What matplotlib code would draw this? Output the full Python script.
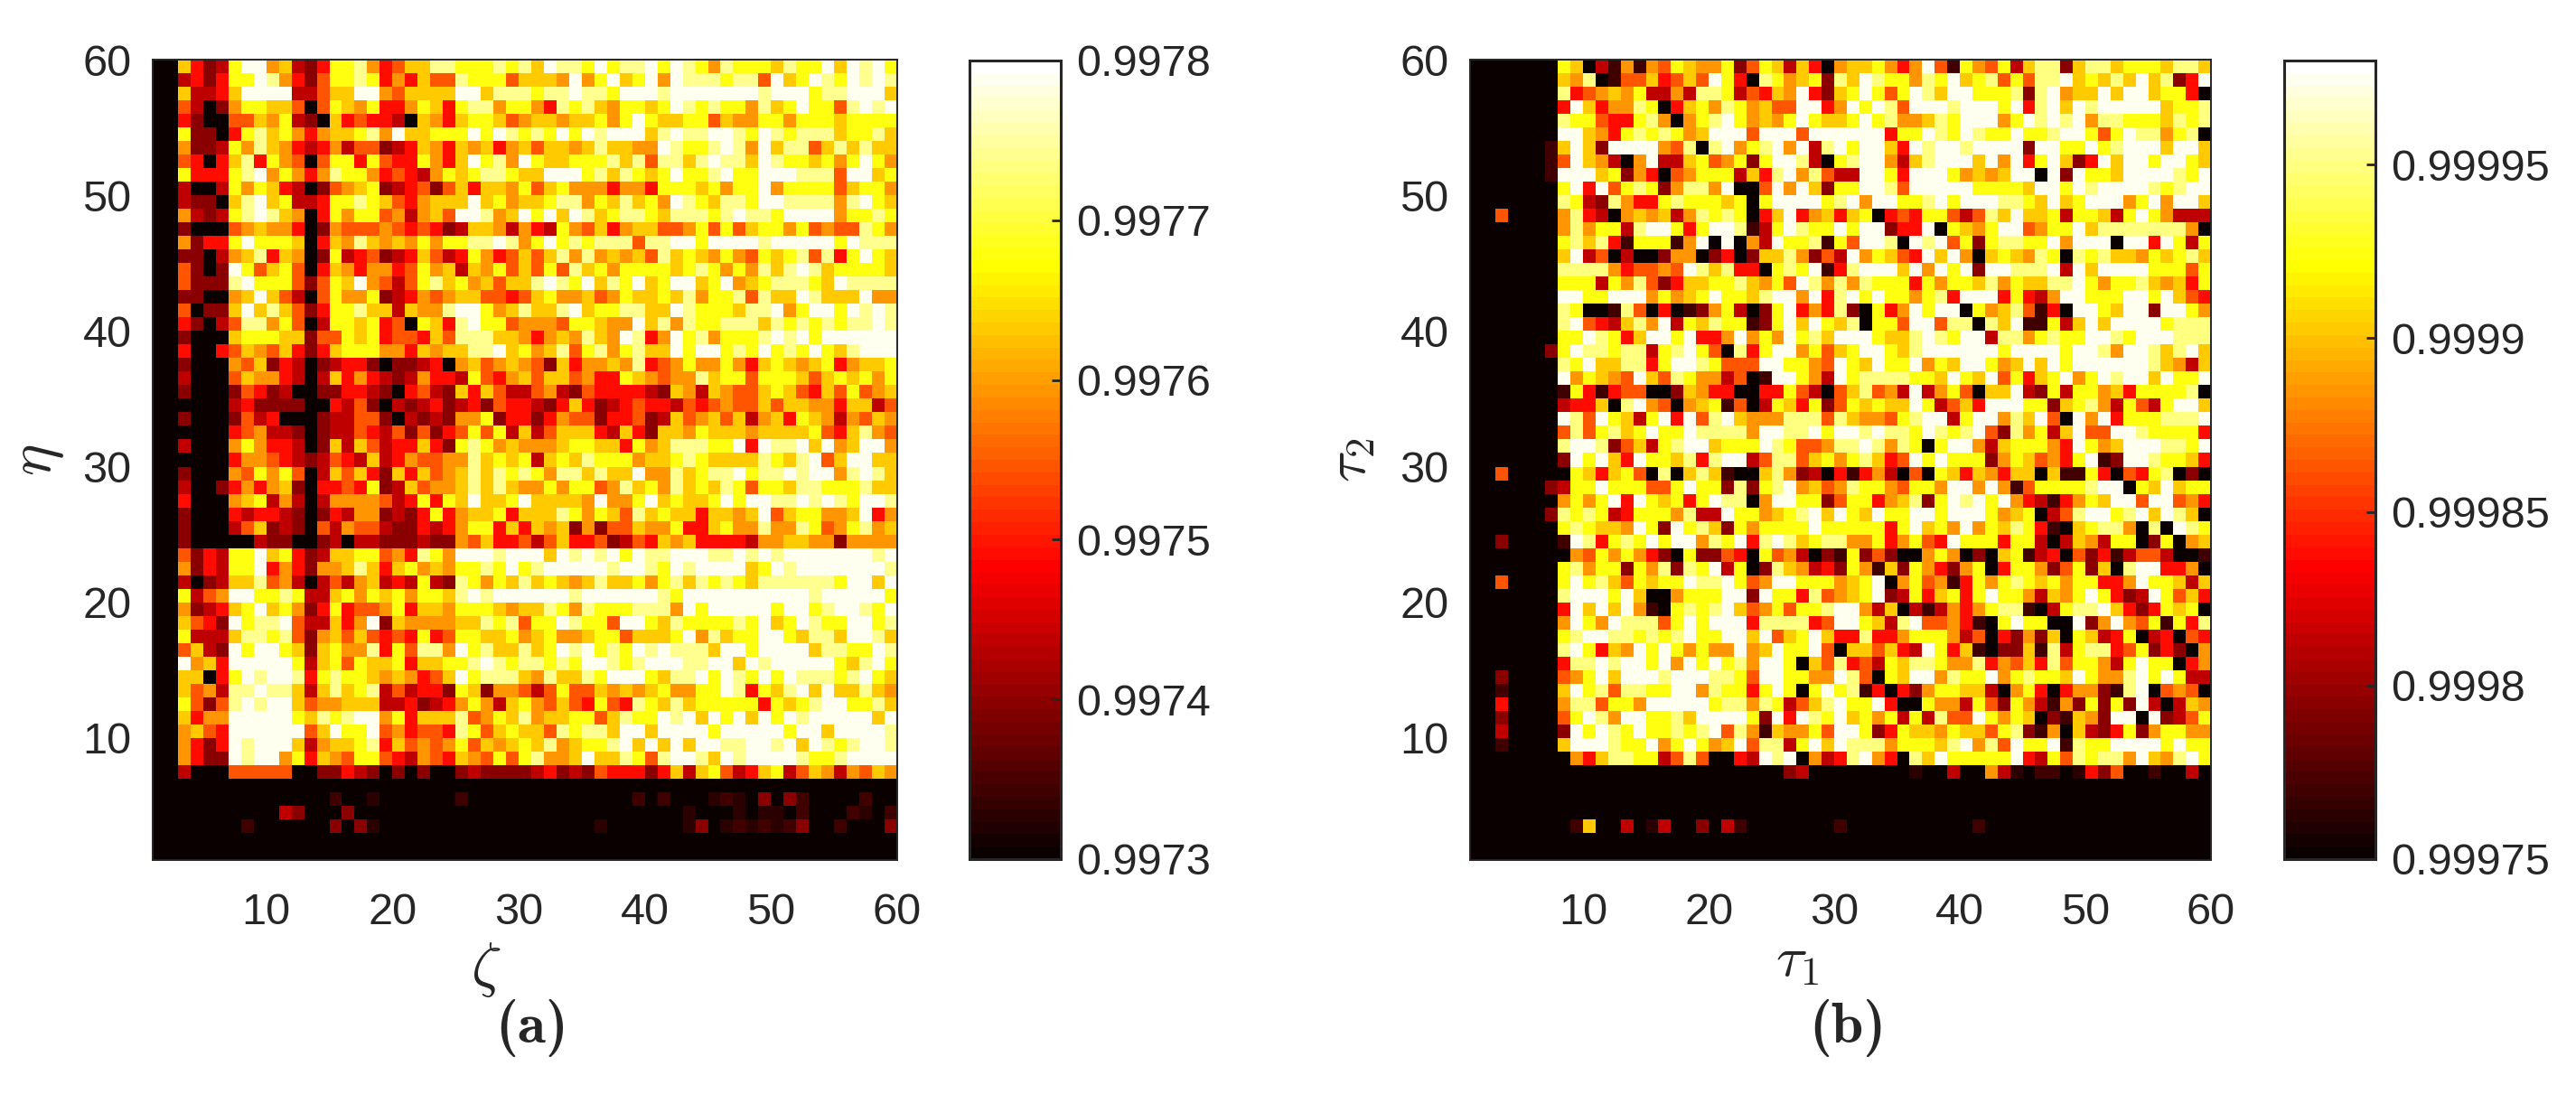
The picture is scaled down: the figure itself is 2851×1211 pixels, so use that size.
import matplotlib
matplotlib.use("Agg")
import matplotlib.pyplot as plt
import numpy as np
from matplotlib.colors import ListedColormap

plt.rcParams['font.family'] = ['Liberation Sans', 'DejaVu Sans']
plt.rcParams['mathtext.fontset'] = 'cm'
plt.rcParams['axes.unicode_minus'] = False
INK = '#262626'

# colour-level readings per cell, top row first (one char per cell)
LEVEL_FRACTION = {'0': 0.0, 'f': 0.05, 'a': 0.09, '1': 0.19, '2': 0.28, '3': 0.385, '4': 0.49,
                  '5': 0.58, '6': 0.66, '7': 0.76, '8': 0.875, '9': 0.98}

ROWS_A = [
"006312799562137785346688777878 69887978897987587776877969897",
"002313779853147787353644877746 66595796795988878849679879898",
"006223699992246699546666996888 78898879998999999989997889996",
"004201577664047657335763788577 53878657767987877586797748989",
"003100446572106343320653677645 66566757976677465577577767777",
"007110378675356678596677797987 87979899968988998798788867786",
"005112758653235244123653656356 46656866559877898596884686866",
"004303683754047737433753697859 76677786848868988698776757975",
"007333789575358775343257678876 69997868767977897799988849967",
"002002757632014567123414636657 46755535537776757795777746775",
"002110689672237787643566696756 67885768675987688799888858976",
"005212789865037577452564998569 79698678876888789887999957787",
"001000456553015444543431266525 32754635664457474677574544875",
"005133797776036586565757788985 79787888488997999989999979888",
"001102568365017234123642375346 46858565648676575476784837976",
"004101974674036535534756265746 47486757777678757586898677776",
"004111897774147695424786756466 89879687967996795678887698888",
"001100569642047557123545664434 67556457667685778486698666955",
"004011696864137786626558997568 66896778866987776889579979898",
"003102488574027767340763897745 55477655968587788868787878898",
"001000677766144767344364888665 35658659835978577789897999999",
"003003465463136777553656688967 56847857866979978797879768999",
"001000546132012331011230564565 41635565834575575367656735667",
"002000465532026353212533274356 46645337654558677477764676757",
"001000143120011332103421636422 45214333321652654467643647456",
"000000231111003241021231231433 21363123433243454464665536624",
"001000142300012244102121557133 13544133412645646256376525465",
"000000345221012243241413474726 24666326316657666566667436854",
"002000575332016264233631787565 55677663756888779398896956995",
"000000355432124326235445586767 26768777566787666687689469966",
"001000547574026463163645686878 75886866955867889788989958986",
"002001353561033437126455686865 57577458675867687477688777866",
"003000567252025555423737696679 66665955796766797998898987998",
"001000323321013255121373566736 66875764867663665694677556935",
"001000246121042544211323577363 65615144655733675585587457856",
"001000002110012022111211546334 24633412436563333255665515555",
"004132779673126677453875999899 96989897988999889898999999989",
"005132779353155686367565778797 89999989987989999679899999998",
"002012668452024256232721875768 67656866757868787688888879969",
"007245997787226757675776898999 99989999998799999999998999997",
"005123679675137344573665777656 68758777888597999997997899879",
"006431978894226359165555668784 77987749976877778796798779978",
"007222688784156464343734776675 67556774666795867799768869986",
"004621979976167558374885978668 67989787989888699799996887798",
"009563999997267476673667789878 87879987899988996989999976897",
"006603798998378776565346978886 58668799976889798797988878976",
"006452889886268678242331761554 24744656567557798376896966865",
"007414898996455666223123575267 54643743876867777737678997786",
"006355999997687899573666845768 56677468779896979697989999969",
"005643999999469779453443874676 64878869969999799999799699998",
"005313989996256678364545746567 68567789696969988998969878998",
"005311989957365477432543654747 85569668748998698999987789999",
"002000444440011321010100121111 23121433313626742367246525465",
"000000000000000000000000000000 00000000000000000000000000000",
"00000000000000a00f000000a00000 00000000a0a000faf0101a0000a00",
"000000000021000100000000000000 000000000000f000f0ff0a000af0a",
"0000000a000000101f000000000000 00000f000000f10fafafa100a0001",
"000000000000000000000000000000 00000000000000000000000000000",
"000000000000000000000000000000 00000000000000000000000000000",
]

ROWS_B = [
"0000000 7 6 0 2 a 5 a 5 4 7 6 5 5 7 1 4 7 6 2 6 3 0 5 6 6 7 5 3 5 9 4 a 7 5 4 7 2 6 8 8 1 6 8 8 6 7 7 7 6 8 8 6",
"0000000 6 5 8 0 a 4 4 6 3 4 6 4 9 7 3 0 8 7 5 6 7 1 8 6 9 8 7 7 5 8 7 9 6 7 8 4 7 4 8 8 9 6 7 6 8 6 9 6 8 1 3 9",
"0000000 8 3 4 5 6 5 7 2 2 5 2 8 8 7 2 4 3 6 5 9 3 1 6 7 9 7 4 7 9 8 6 9 9 7 7 7 8 1 8 9 5 6 6 9 6 9 9 6 7 7 3 0",
"0000000 3 9 6 3 5 5 8 7 0 3 6 7 5 8 7 5 6 4 4 9 9 3 5 9 7 9 8 4 9 9 9 8 9 9 9 7 9 3 8 9 6 9 8 9 9 9 9 9 6 7 7 8",
"0000000 8 7 7 4 3 3 7 8 5 0 5 7 8 9 7 5 6 5 7 9 7 6 6 7 9 7 8 5 5 6 8 7 9 9 9 5 7 9 8 9 8 9 5 8 8 7 7 7 6 8 7 8",
"0000000 9 9 6 5 3 7 8 7 8 7 5 6 9 9 9 4 9 9 9 4 9 9 9 9 9 9 3 7 7 9 8 7 9 8 7 7 9 7 7 8 9 9 7 4 7 9 8 8 5 7 8 0",
"000000a 6 9 6 1 9 9 9 9 5 4 8 0 8 9 5 7 8 9 5 9 2 8 9 7 9 9 6 3 9 8 9 9 8 9 9 9 9 1 9 9 7 7 9 7 8 9 9 9 6 9 9 6",
"000000a 4 9 6 5 2 0 5 9 2 2 6 7 4 5 7 1 7 9 9 8 2 0 7 8 9 9 5 2 6 8 9 9 9 6 9 5 9 3 7 9 6 1 3 9 6 9 9 7 9 9 7 6",
"000000a 9 9 9 6 7 1 5 3 0 4 5 7 7 7 2 6 3 8 9 5 8 4 2 2 9 9 7 3 9 9 9 7 5 6 5 6 9 9 0 9 1 9 7 7 6 9 9 9 9 8 7 9",
"0000000 7 9 3 9 4 7 8 7 1 5 8 8 5 9 0 0 4 9 5 9 6 1 7 7 9 9 8 4 9 9 9 9 9 7 7 7 7 6 9 9 7 9 8 9 9 9 9 8 7 8 9 9",
"0000000 8 7 2 1 8 5 3 3 7 8 7 7 7 6 7 0 7 9 9 9 9 7 8 9 5 9 9 7 7 8 9 7 9 9 9 8 8 7 6 9 6 7 9 9 9 5 7 9 5 9 9 6",
"0040000 5 8 3 2 0 5 6 5 6 2 5 8 7 8 7 0 3 6 9 3 5 6 3 6 7 0 3 4 3 7 7 4 2 4 8 6 9 6 6 7 2 7 7 6 2 7 9 7 5 2 2 2",
"0000000 5 8 5 7 7 2 8 9 9 7 3 7 9 9 8 a 2 7 9 8 7 7 9 7 9 9 1 3 3 9 0 7 6 5 7 9 9 4 5 7 7 9 6 8 8 8 8 8 8 8 5 0",
"0000000 7 8 6 8 3 a 7 7 7 a 5 9 0 9 0 5 2 9 7 7 8 a 7 4 9 9 8 0 9 8 9 4 7 1 7 8 8 7 7 9 5 9 9 9 0 9 9 3 9 7 2 7",
"0000000 6 9 2 4 0 2 0 0 1 5 5 0 1 3 0 1 6 6 8 5 1 4 2 9 5 7 6 4 3 9 6 9 5 0 6 7 6 5 8 7 0 8 7 8 6 6 5 7 6 7 8 6",
"0000000 8 8 8 8 5 3 4 4 5 4 9 8 6 8 3 3 0 7 8 7 9 a 3 8 9 9 9 6 9 5 9 7 9 1 9 9 8 8 8 9 2 9 6 9 9 9 9 7 7 7 4 7",
"0000000 7 7 7 2 7 5 8 4 1 3 6 6 7 7 8 6 5 7 4 9 8 5 8 5 8 7 7 7 3 7 5 7 7 6 8 5 7 6 6 8 8 9 7 5 7 7 8 6 5 6 3 7",
"0000000 9 9 7 7 9 9 9 5 7 5 6 7 9 7 7 6 8 9 9 5 9 3 8 9 7 9 7 7 5 7 8 3 9 9 9 3 7 3 2 5 9 9 7 7 7 9 9 7 9 6 4 3",
"0000000 8 7 0 0 a 8 4 0 3 0 a 1 5 7 2 0 1 7 9 3 5 3 8 1 0 7 3 5 9 7 9 9 0 7 5 6 8 4 a 3 0 9 9 7 6 9 9 1 9 9 7 5",
"0000000 8 9 4 3 2 6 8 5 9 2 7 6 8 7 7 a 1 7 9 6 9 7 6 8 0 7 7 4 9 9 4 8 8 0 8 6 9 a a 7 2 6 9 6 9 9 9 9 7 8 8 8",
"0000000 7 7 9 8 7 3 6 9 9 7 9 3 3 5 9 5 7 5 9 7 8 6 9 9 9 7 6 6 8 9 8 7 9 9 2 8 8 5 7 8 7 7 9 9 8 7 9 9 9 8 8 8",
"0000001 7 9 8 8 7 8 8 2 7 8 9 7 4 0 8 3 7 9 9 5 7 4 6 7 9 9 7 6 8 9 9 9 9 9 9 7 9 9 9 9 7 9 9 8 5 9 9 8 6 8 9 6",
"0000000 8 7 9 6 6 8 8 3 7 9 9 8 7 4 4 4 9 9 7 7 5 4 9 7 6 9 7 7 9 5 7 6 9 9 7 5 6 9 6 9 7 9 9 9 9 9 9 8 6 5 2 6",
"0000000 9 5 7 6 5 4 9 6 4 8 7 5 5 2 4 0 a 9 9 7 5 2 9 7 8 8 8 8 7 7 6 9 7 6 9 4 7 3 6 7 9 5 7 9 8 9 9 6 9 7 7 9",
"0000000 a 7 3 a 3 4 4 0 0 1 6 5 3 3 0 0 3 3 7 4 2 0 4 6 8 4 5 2 9 2 5 7 4 0 6 6 9 2 1 7 2 7 7 5 6 3 7 7 7 7 8 0",
"0000000 2 3 3 6 0 8 9 5 4 0 5 6 7 a 4 0 2 7 6 3 7 1 4 7 6 7 6 6 9 7 2 4 6 3 9 9 9 7 7 1 6 7 8 5 2 7 4 2 7 9 9 6",
"0000000 9 8 4 9 7 6 2 7 9 3 9 4 8 9 6 5 5 5 8 8 8 4 8 6 5 5 4 7 8 9 9 2 7 9 9 5 8 6 9 4 0 9 5 9 3 7 7 7 8 8 8 9",
"0000000 4 8 4 7 8 6 7 9 7 7 9 8 8 8 8 5 9 9 8 8 9 7 9 9 8 9 8 8 7 9 8 7 8 9 4 1 8 5 7 2 6 9 4 4 9 9 8 7 7 7 7 3",
"0000000 8 9 9 8 1 4 6 2 7 8 9 9 6 7 7 7 9 8 7 4 4 5 8 8 9 8 5 8 7 0 7 9 9 5 2 6 7 7 7 5 3 9 7 5 6 9 9 9 8 8 7 9",
"0000000 1 9 7 9 6 3 9 7 7 6 8 3 8 9 9 2 4 8 8 4 6 7 5 7 8 6 3 4 9 7 9 7 7 7 1 5 7 6 4 5 3 7 9 a 1 9 9 8 7 7 6 3",
"0040000 0 7 6 3 6 7 4 0 8 0 6 8 6 a 0 0 6 8 5 1 2 0 3 a 3 5 2 0 4 0 7 6 3 6 5 3 6 6 0 6 a a 7 3 0 4 3 7 8 0 1 0",
"0000001 2 7 7 9 7 7 7 4 4 7 9 7 7 1 8 1 7 8 9 5 6 4 5 8 7 7 5 4 7 7 5 9 9 5 9 5 a 4 7 7 7 7 8 9 9 0 7 6 9 6 7 7",
"0000000 5 7 5 7 9 3 9 7 6 7 3 7 9 8 8 0 5 9 9 7 7 1 4 7 7 3 5 6 8 1 7 9 8 9 7 9 5 3 2 a 3 5 7 6 9 9 4 9 9 4 5 3",
"0000001 8 7 8 7 2 3 7 7 7 5 8 2 2 9 7 7 5 6 7 8 9 6 9 7 6 9 7 7 9 9 7 9 9 9 7 5 6 7 0 2 4 8 9 9 7 8 9 6 9 8 6 0",
"0000000 7 8 7 6 6 5 9 7 1 9 7 8 6 1 7 5 7 7 7 7 9 7 7 7 7 7 3 7 9 6 7 5 9 5 7 6 8 7 3 a 0 6 7 8 8 5 0 8 0 9 8 7",
"0010000 a 9 8 3 7 8 7 9 7 9 9 5 8 7 9 3 8 9 8 6 7 8 8 5 5 7 3 5 7 4 3 9 7 7 7 3 7 7 2 0 2 6 5 2 7 7 0 1 7 0 5 6",
"0000000 0 5 4 7 5 7 5 3 1 0 7 1 1 4 3 0 7 4 5 2 0 1 a 7 1 4 1 0 0 5 7 5 0 1 0 6 7 a 2 3 0 4 1 3 a 2 4 4 2 0 0 a",
"0000000 7 8 5 7 7 1 7 5 8 1 8 7 9 2 7 0 1 8 6 5 2 3 1 7 5 a 6 1 7 5 3 1 5 7 0 3 7 7 5 1 4 7 1 6 0 8 9 9 3 3 5 0",
"0040000 7 9 7 8 6 4 7 6 7 7 9 8 8 9 7 4 5 9 9 7 7 7 5 6 7 9 0 5 7 4 5 a 3 7 5 7 8 7 6 7 5 7 7 3 3 5 9 7 7 6 2 6",
"0000000 8 9 9 9 7 9 6 0 0 5 7 7 7 9 9 1 9 7 7 3 8 4 5 6 7 9 1 2 7 3 6 7 3 7 9 7 7 5 2 6 5 7 9 7 3 1 2 9 7 4 6 3",
"0000000 3 9 6 9 6 9 5 a 0 7 8 7 8 9 6 4 5 7 4 7 7 8 9 9 5 2 6 0 2 a 2 5 3 5 7 8 8 a 0 2 7 8 8 9 6 3 1 3 7 6 7 0",
"0000000 5 9 7 5 9 8 8 8 4 7 9 7 9 9 9 3 8 8 8 8 3 4 9 9 7 6 2 8 9 4 4 5 3 a 0 7 9 7 7 0 0 9 1 5 9 5 4 7 a 7 3 8",
"0000000 7 8 9 9 8 8 7 8 7 8 9 7 7 9 9 6 9 4 6 7 9 6 3 3 8 3 3 5 7 7 7 5 2 4 0 3 1 5 1 6 0 7 6 2 3 7 0 2 3 0 4 3",
"0000000 8 9 7 3 6 5 9 7 9 7 5 7 5 5 9 5 6 9 7 7 9 4 0 6 6 4 6 3 2 9 7 3 6 a 0 1 1 6 a 8 2 7 8 8 3 4 7 1 3 1 0 5",
"0000000 3 8 8 9 8 9 9 7 9 5 9 7 9 7 8 5 9 9 7 0 6 4 8 3 4 2 7 6 8 8 7 5 5 8 3 5 4 6 3 8 4 7 7 5 2 7 9 7 7 0 3 5",
"0010000 4 5 7 9 6 9 9 9 8 9 9 9 8 8 7 4 9 9 7 7 5 5 9 8 4 0 7 6 9 9 5 8 7 7 9 5 7 8 7 7 6 9 7 5 5 8 9 7 9 7 2 2",
"00a0000 6 9 7 8 4 8 8 7 7 9 9 5 8 7 7 3 7 9 7 0 7 9 7 8 a 3 0 3 1 5 7 7 6 6 2 0 5 7 3 0 3 5 5 1 a 8 9 0 4 5 4 0",
"0030000 5 8 8 4 7 7 5 9 9 9 9 9 7 8 8 5 8 7 2 4 6 8 9 7 7 9 3 0 0 7 5 5 2 7 4 1 7 5 2 a 5 1 7 1 7 1 9 2 0 2 6 5",
"0010000 4 7 9 8 5 9 9 7 7 8 6 9 9 9 9 7 1 9 3 9 8 7 9 6 7 5 7 2 7 2 8 4 4 9 7 5 7 6 0 1 a 6 5 1 9 9 0 9 1 2 4 7",
"0020000 1 9 7 9 8 7 9 7 7 8 7 8 9 4 8 5 a 6 5 5 7 4 9 9 7 1 3 7 6 6 5 7 6 6 4 7 8 1 a 5 0 6 2 1 3 7 1 5 7 7 5 5",
"00a0000 6 9 9 9 8 7 7 9 5 7 9 7 5 6 9 4 8 8 2 7 9 6 9 8 8 8 5 7 7 7 6 8 9 5 8 4 9 7 7 9 a 8 7 7 9 9 9 9 7 9 7 7",
"0000000 0 5 3 6 8 8 7 7 2 4 8 4 0 0 3 2 9 8 9 0 5 2 3 8 9 5 3 0 8 6 9 7 7 7 7 7 9 3 2 7 4 8 7 8 8 5 9 6 5 8 9 7",
"000000000000000000000000012000 00000f002 0052f0aa0f31400a0020",
"000000000000000000000000000000 00000000000000000000000000000",
"000000000000000000000000000000 00000000000000000000000000000",
"000000000000000000000000000000 00000000000000000000000000000",
"00000000a60020f2001 02a0000000a 0000000000a000000000000000000",
"000000000000000000000000000000 00000000000000000000000000000",
"000000000000000000000000000000 00000000000000000000000000000",
]

CBAR_TICKS_A = [0.9973, 0.9974, 0.9975, 0.9976, 0.9977, 0.9978]
CBAR_LABELS_A = ['0.9973', '0.9974', '0.9975', '0.9976', '0.9977', '0.9978']
CBAR_TICKS_B = [0.99975, 0.9998, 0.99985, 0.9999, 0.99995]
CBAR_LABELS_B = ['0.99975', '0.9998', '0.99985', '0.9999', '0.99995']
AXIS_TICKS = [10, 20, 30, 40, 50, 60]


def to_matrix(rows, vmin, vmax):
    out = []
    for r in rows:
        r = r.replace(' ', '')
        r = (r + r[-1] * 59)[:59]
        out.append([vmin + LEVEL_FRACTION[c] * (vmax - vmin) for c in r])
    return np.array(out)[::-1]


def matlab_hot(m=64):
    n = int(3 * m / 8)
    r = np.concatenate([np.arange(1, n + 1) / n, np.ones(m - n)])
    g = np.concatenate([np.zeros(n), np.arange(1, n + 1) / n, np.ones(m - 2 * n)])
    b = np.concatenate([np.zeros(2 * n), np.arange(1, m - 2 * n + 1) / (m - 2 * n)])
    return ListedColormap(np.c_[r, g, b])


W, H = 2851, 1211
fig = plt.figure(figsize=(W / 100, H / 100), dpi=100, facecolor='white')


def box(x0, y0, x1, y1):
    return [x0 / W, 1 - y1 / H, (x1 - x0) / W, (y1 - y0) / H]


def px(x, y):
    return x / W, 1 - y / H


FS = 35
cmap = matlab_hot()
grid = np.arange(1, 61)


def panel(rows, ax_box, cax_box, vmin, vmax, ticks, labels):
    ax = fig.add_axes(box(*ax_box))
    m = ax.pcolormesh(grid, grid, to_matrix(rows, vmin, vmax), cmap=cmap, vmin=vmin, vmax=vmax,
                      shading='flat', antialiased=False, linewidth=0)
    ax.set_xlim(1, 60)
    ax.set_ylim(1, 60)
    ax.set_xticks(AXIS_TICKS)
    ax.set_yticks(AXIS_TICKS)
    ax.tick_params(length=0, labelsize=FS, colors=INK, pad=26)
    ax.tick_params(axis='y', pad=17)
    for s in ax.spines.values():
        s.set_color(INK)
        s.set_linewidth(1.4)
    cax = fig.add_axes(box(*cax_box))
    cb = fig.colorbar(m, cax=cax, ticks=ticks)
    cb.ax.set_yticklabels(labels)
    cb.ax.tick_params(direction='in', length=7, width=2, labelsize=FS, colors=INK, pad=12, right=True, left=False)
    cb.outline.set_edgecolor(INK)
    cb.outline.set_linewidth(2.2)
    return ax


panel(ROWS_A, (169, 66, 993, 952), (1073, 67, 1174, 951), 0.9973, 0.9978, CBAR_TICKS_A, CBAR_LABELS_A)
panel(ROWS_B, (1627, 66, 2447, 952), (2528, 67, 2629, 951), 0.99975, 0.99998, CBAR_TICKS_B, CBAR_LABELS_B)

lab = dict(color=INK, ha='center', va='center')
fig.text(*px(538, 1073), r'$\zeta$', fontsize=48, **lab)
fig.text(*px(42, 509), r'$\eta$', fontsize=48, rotation=90, **lab)
fig.text(*px(1989, 1063), r'$\tau_1$', fontsize=46, **lab)
fig.text(*px(1494, 509), r'$\tau_2$', fontsize=46, rotation=90, **lab)
fig.text(*px(589, 1138), '(a)', fontsize=46, family='cmb10', **lab)
fig.text(*px(2045, 1138), '(b)', fontsize=46, family='cmb10', **lab)

fig.savefig('out.png', dpi=100, facecolor='white')
